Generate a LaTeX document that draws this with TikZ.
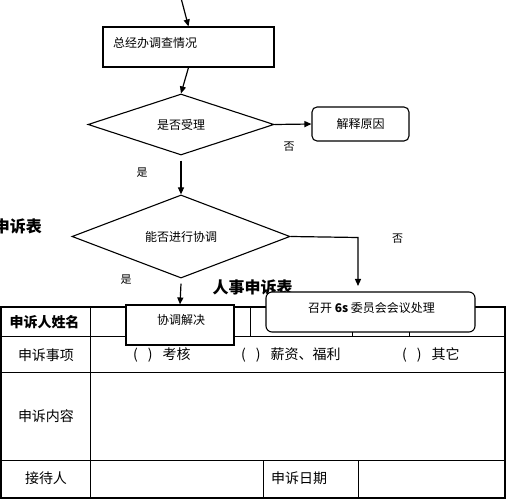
\documentclass[tikz,border=0pt]{standalone}
\usepackage{fontspec}
\setmainfont{Noto Sans CJK SC}
\usetikzlibrary{
    shapes.geometric,
    arrows.meta,
    positioning
}

\begin{document}
\begin{tikzpicture}[x=1pt, y=-1pt,
        flowline/.style={line width=1.2pt, -{Triangle[length=7pt, width=6pt]}},
        flowbox/.style={draw, line width=1.1pt, fill=white, inner sep=0pt, font=\fontsize{12}{14}\selectfont},
        decision/.style={draw, diamond, line width=1.1pt, inner sep=0pt, font=\fontsize{12}{14}\selectfont},
        yesno/.style={font=\fontsize{11}{13}\selectfont, inner sep=0pt},
        celltext/.style={font=\fontsize{14}{16}\selectfont, inner sep=0pt}]
                \useasboundingbox (0,0) rectangle (507,500);

                % Flow chart
                \coordinate (entry) at (181,-2);
                \node[flowbox, minimum width=171pt, minimum height=40pt] (survey) at (188.5,47) {};
                \node[anchor=west, font=\fontsize{12}{14}\selectfont, inner sep=0pt] (surveytext) at (113,43) {总经办调查情况};
                \node[decision, minimum width=186pt, minimum height=61pt] (accept) at (181,124.5) {是否受理};
                \node[flowbox, rounded corners=5pt, minimum width=97pt, minimum height=34pt] (reason) at (360.5,124) {解释原因};
                \node[decision, minimum width=218pt, minimum height=73pt] (mediate) at (181,236.5) {能否进行协调};
                \coordinate (turn) at (358,237.5);
                \coordinate (meetend) at (358,286);

                % Arrows
                \draw[flowline] (entry) -- (survey.north);
                \draw[flowline] (survey.south) -- (accept.north);
                \draw[flowline] (accept.east) -- (reason.west);
                \draw[flowline] (accept.south) ++(0,5) -- (mediate.north);
                \draw[flowline] (mediate.east) -- (turn) -- (meetend);

                % Labels
                \node[yesno] (no1) at (289,147) {否};
                \node[yesno] (yes1) at (142,173) {是};
                \node[yesno] (no2) at (397.5,239) {否};
                \node[yesno] (yes2) at (126,280) {是};

                % Titles
                \node[anchor=east, font=\bfseries\fontsize{16}{18}\selectfont, inner sep=0pt] (lefttitle) at (42,226) {申诉表};
                \node[font=\bfseries\fontsize{16}{18}\selectfont, inner sep=0pt] (title) at (252.5,287.5) {人事申诉表};

                % Table
                \draw[line width=1.8pt] (1,307) rectangle (505,498);
                \draw[line width=1pt] (1,337) -- (505,337);
                \draw[line width=1pt] (1,373) -- (505,373);
                \draw[line width=1pt] (1,460) -- (505,460);
                \draw[line width=1pt] (90,307) -- (90,498);
                \foreach \x in {250, 352, 409}
                    \draw[line width=1pt] (\x,307) -- (\x,337);
                \foreach \x in {263, 358}
                    \draw[line width=1pt] (\x,460) -- (\x,498);

                \node[celltext, font=\bfseries\fontsize{14}{16}\selectfont] (name) at (44.5,322) {申诉人姓名};
                \node[celltext] (item) at (46,355) {申诉事项};
                \node[celltext] (content) at (46,416) {申诉内容};
                \node[celltext] (receiver) at (46,478) {接待人};
                \node[celltext] (date) at (299,478) {申诉日期};
                \node[celltext, anchor=west] (optA) at (133,355) {(\hspace{10pt})\hspace{10pt}考核};
                \node[celltext, anchor=west] (optB) at (241,355) {(\hspace{10pt})\hspace{10pt}薪资、福利};
                \node[celltext, anchor=west] (optC) at (402,355) {(\hspace{10pt})\hspace{10pt}其它};

                % Boxes on top of the table
                \node[flowbox, minimum width=108pt, minimum height=40pt] (solve) at (180,325) {};
                \node[font=\fontsize{12}{14}\selectfont, inner sep=0pt] (solvetext) at (181,320) {协调解决};
                \node[flowbox, rounded corners=6pt, minimum width=209pt, minimum height=40pt] (meeting) at (370.5,312) {};
                \node[font=\fontsize{12}{14}\selectfont, inner sep=0pt] (meetingtext) at (371.5,307.5) {召开 \textbf{6s} 委员会会议处理};
                \draw[flowline] (mediate.south) ++(0,5) -- (solve.north);
            \end{tikzpicture}
\end{document}
